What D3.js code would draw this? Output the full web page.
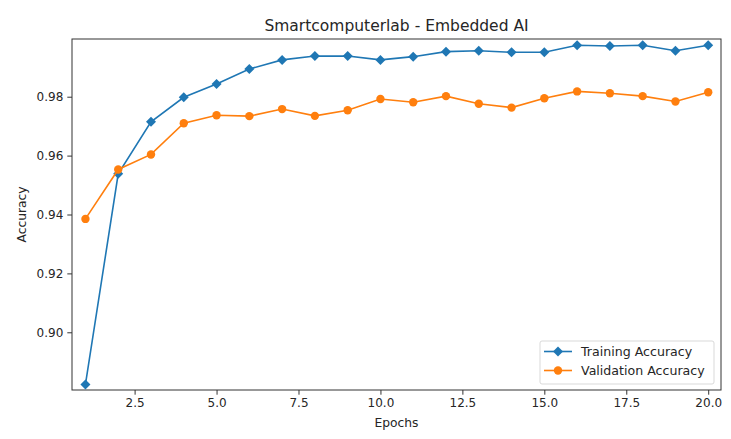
<!DOCTYPE html>
<html>
<head>
<meta charset="utf-8">
<script src="https://cdn.jsdelivr.net/npm/d3@7"></script>
<style>
  body { margin: 0; background: #fff; }
  text { font-family: "DejaVu Sans", sans-serif; fill: #262626; }
</style>
</head>
<body>
<div id="graph"></div>
<script>
var svgWidth = 731;
var svgHeight = 439;

// plot frame (pixels)
var plotLeft = 72, plotRight = 721, plotTop = 39, plotBottom = 390;

var titleText = "Smartcomputerlab - Embedded AI";
var xAxisTitleText = "Epochs";
var yAxisTitleText = "Accuracy";

// data
var epochs = [1, 2, 3, 4, 5, 6, 7, 8, 9, 10, 11, 12, 13, 14, 15, 16, 17, 18, 19, 20];
var trainAcc = [0.8823, 0.9538, 0.9715, 0.9798, 0.9843, 0.9894, 0.9925, 0.9938, 0.9938, 0.9925,
                0.9936, 0.9953, 0.9956, 0.9951, 0.9951, 0.9975, 0.9972, 0.9975, 0.9956, 0.9975];
var valAcc = [0.9385, 0.9553, 0.9604, 0.9710, 0.9737, 0.9734, 0.9758, 0.9735, 0.9754, 0.9792,
              0.9781, 0.9802, 0.9776, 0.9763, 0.9795, 0.9818, 0.9812, 0.9802, 0.9784, 0.9815];
var xTicks = [2.5, 5.0, 7.5, 10.0, 12.5, 15.0, 17.5, 20.0];
var yTicks = [0.90, 0.92, 0.94, 0.96, 0.98];
var seriesNames = ["Training Accuracy", "Validation Accuracy"];
var colors = ["#1f77b4", "#ff7f0e"];

var x = d3.scaleLinear().domain([0.59, 20.39]).range([plotLeft, plotRight]);
var y = d3.scaleLinear().domain([0.8804, 0.9996]).range([plotBottom, plotTop]);

var svg = d3.select("#graph").append("svg")
  .attr("width", svgWidth)
  .attr("height", svgHeight);

// title
svg.append("text")
  .attr("x", (plotLeft + plotRight) / 2)
  .attr("y", 30.5)
  .attr("text-anchor", "middle")
  .attr("font-size", 15.5)
  .text(titleText);

// axes
var xAxis = svg.append("g")
  .attr("transform", "translate(0," + plotBottom + ")")
  .call(d3.axisBottom(x).tickValues(xTicks).tickFormat(d3.format(".1f")).tickSize(4.7).tickPadding(4));
var yAxis = svg.append("g")
  .attr("transform", "translate(" + plotLeft + ",0)")
  .call(d3.axisLeft(y).tickValues(yTicks).tickFormat(d3.format(".2f")).tickSize(4.7).tickPadding(4));

[xAxis, yAxis].forEach(function(g) {
  g.select(".domain").remove();
  g.selectAll("line").attr("stroke", "#333").attr("stroke-width", 1);
  g.selectAll("text").attr("font-size", 12).attr("font-family", "DejaVu Sans").attr("fill", "#262626");
});

// frame
svg.append("rect")
  .attr("x", plotLeft).attr("y", plotTop)
  .attr("width", plotRight - plotLeft).attr("height", plotBottom - plotTop)
  .attr("fill", "none").attr("stroke", "#333").attr("stroke-width", 1);

// axis titles
svg.append("text")
  .attr("x", (plotLeft + plotRight) / 2)
  .attr("y", 427)
  .attr("text-anchor", "middle")
  .attr("font-size", 12.3)
  .text(xAxisTitleText);
svg.append("text")
  .attr("transform", "translate(26," + (plotTop + plotBottom) / 2 + ") rotate(-90)")
  .attr("text-anchor", "middle")
  .attr("font-size", 12.3)
  .text(yAxisTitleText);

var plot = svg.append("g");
var line = d3.line().x(function(d) { return x(d[0]); }).y(function(d) { return y(d[1]); });

var diamond = d3.symbol().type(d3.symbolSquare).size(50);

function drawSeries(values, color, kind) {
  var pts = epochs.map(function(e, i) { return [e, values[i]]; });
  plot.append("path")
    .datum(pts)
    .attr("d", line)
    .attr("fill", "none")
    .attr("stroke", color)
    .attr("stroke-width", 1.6);
  if (kind === "diamond") {
    plot.selectAll(null).data(pts).enter().append("path")
      .attr("d", diamond)
      .attr("transform", function(d) { return "translate(" + x(d[0]) + "," + y(d[1]) + ") rotate(45)"; })
      .attr("fill", color);
  } else {
    plot.selectAll(null).data(pts).enter().append("circle")
      .attr("cx", function(d) { return x(d[0]); })
      .attr("cy", function(d) { return y(d[1]); })
      .attr("r", 4.2)
      .attr("fill", color);
  }
}
drawSeries(trainAcc, colors[0], "diamond");
drawSeries(valAcc, colors[1], "circle");

// legend
var lg = svg.append("g");
lg.append("rect")
  .attr("x", 540).attr("y", 341)
  .attr("width", 174).attr("height", 43)
  .attr("rx", 2)
  .attr("fill", "#fff").attr("fill-opacity", 0.8)
  .attr("stroke", "#d9d9d9");
seriesNames.forEach(function(name, i) {
  var ly = 351.5 + i * 19;
  lg.append("line")
    .attr("x1", 544).attr("x2", 572)
    .attr("y1", ly).attr("y2", ly)
    .attr("stroke", colors[i]).attr("stroke-width", 1.6);
  if (i === 0) {
    lg.append("path").attr("d", diamond)
      .attr("transform", "translate(558," + ly + ") rotate(45)")
      .attr("fill", colors[i]);
  } else {
    lg.append("circle").attr("cx", 558).attr("cy", ly).attr("r", 4.2).attr("fill", colors[i]);
  }
  lg.append("text")
    .attr("x", 581).attr("y", ly + 4.5)
    .attr("font-size", 12.6)
    .text(name);
});
</script>
</body>
</html>
